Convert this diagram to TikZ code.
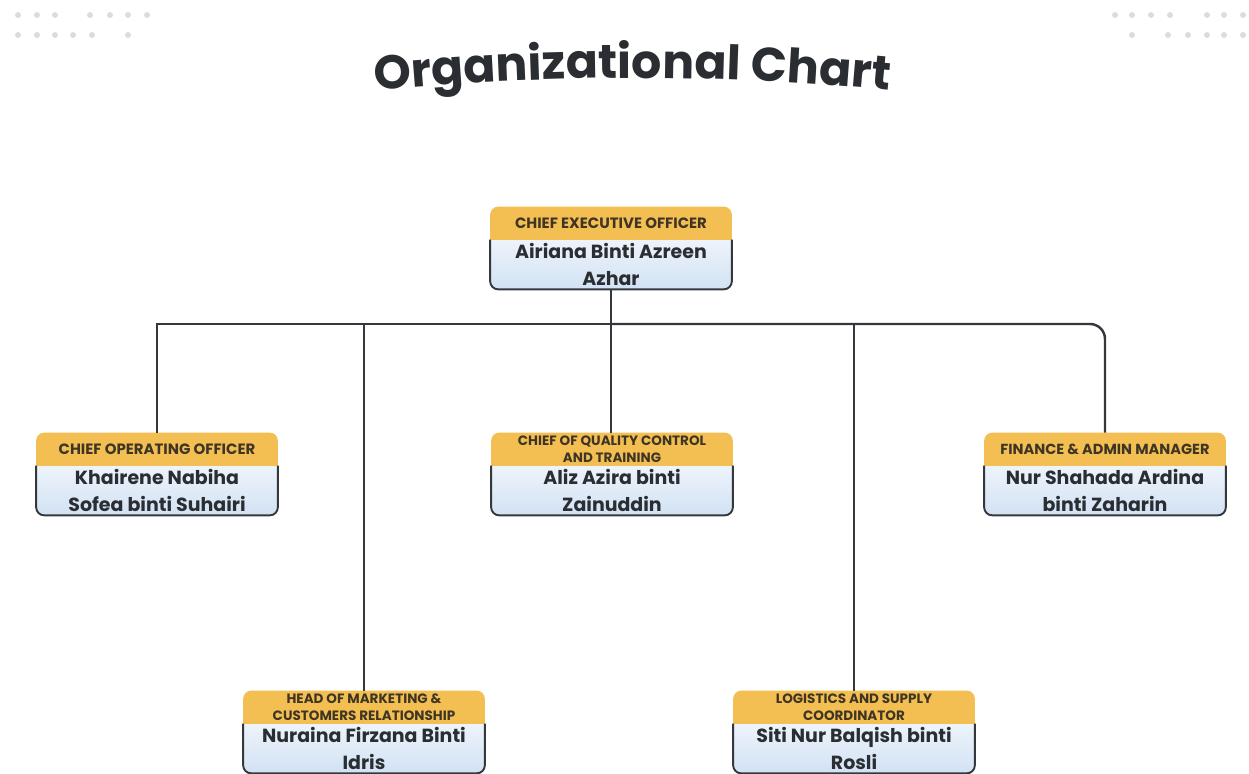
\documentclass[tikz,border=0pt]{standalone}
\usepackage{fontspec}
\setmainfont{Poppins}
\usetikzlibrary{positioning, calc, decorations.text}

\definecolor{headyellow}{HTML}{F4BF52}
\definecolor{boxline}{HTML}{34383D}
\definecolor{bodyblue}{HTML}{D2E2F4}
\definecolor{dotgray}{HTML}{DCDCDC}
\definecolor{inktext}{HTML}{2A2D31}
\definecolor{roletext}{HTML}{3E3524}

\tikzset{
  orgbox/.style={minimum width=4.82cm, minimum height=1.64cm, inner sep=0pt,
    rounded corners=0.16cm, top color=white, middle color=white, bottom color=bodyblue},
  roletag/.style={font=\fontsize{#1}{9.6}\selectfont\bfseries, text=roletext, align=center, inner sep=0pt},
  person/.style={font=\fontsize{10.8}{15.3}\selectfont\bfseries, text=inktext, align=center, inner sep=0pt},
  link/.style={draw=boxline, line width=1.4pt},
}

\begin{document}
\begin{tikzpicture}[x=0.02cm, y=-0.02cm]

    \useasboundingbox (0,0) rectangle (1249,774);

    % --- Corner dots ---
    \foreach \x in {18,37,55,90,110,128,147} \fill[dotgray] (\x,15) circle (0.06cm);
    \foreach \x in {18,37,55,73,92,128} \fill[dotgray] (\x,35) circle (0.06cm);
    \foreach \x in {1115,1132,1151,1170,1207,1224,1243} \fill[dotgray] (\x,15) circle (0.06cm);
    \foreach \x in {1132,1168,1188,1207,1224,1243} \fill[dotgray] (\x,35) circle (0.06cm);

    % --- Title (arched) ---
    \path[decorate, decoration={text along path, text align=center, text color=inktext,
        text={|\fontsize{27}{28}\selectfont\bfseries|Organizational Chart}}]
        (370,91) .. controls (540,74) and (725,74) .. (895,91);

    % --- Boxes ---
    \foreach \id/\x/\y/\fs/\role/\who in {
        ceo/611/248/8.5/{CHIEF EXECUTIVE OFFICER}/{Airiana Binti Azreen\\Azhar},
        coo/157/474/8.5/{CHIEF OPERATING OFFICER}/{Khairene Nabiha\\Sofea binti Suhairi},
        qc/612/474/7.7/{CHIEF OF QUALITY CONTROL\\AND TRAINING}/{Aliz Azira binti\\Zainuddin},
        fin/1105/474/8.3/{FINANCE \& ADMIN MANAGER}/{Nur Shahada Ardina\\binti Zaharin},
        mkt/364/732/7.7/{HEAD OF MARKETING \&\\CUSTOMERS RELATIONSHIP}/{Nuraina Firzana Binti\\Idris},
        log/854/732/7.7/{LOGISTICS AND SUPPLY\\COORDINATOR}/{Siti Nur Balqish binti\\Rosli}}
    {
        \node[orgbox] (\id) at (\x,\y) {};
        % yellow header
        \fill[headyellow, rounded corners=0.16cm] (\id.north west) rectangle ($(\id.north east)+(0,-0.66cm)$);
        \fill[headyellow] ($(\id.north west)+(0,-0.33cm)$) rectangle ($(\id.north east)+(0,-0.66cm)$);
        % outline below the header
        \draw[boxline, line width=1.1pt, rounded corners=0.16cm]
            ($(\id.north west)+(0,-0.66cm)$) -- (\id.south west) -- (\id.south east) -- ($(\id.north east)+(0,-0.66cm)$);
        \node[roletag=\fs] (\id-role) at ($(\id.north)+(0,-0.33cm)$) {\role};
        \node[person] (\id-name) at ($(\id.north)+(0,-1.15cm)$) {\who};
    }

    % --- Connectors ---
    \coordinate (bus) at (611,324);
    \draw[link] (ceo.south) -- (ceo.south |- qc.north);
    \draw[link] (coo.north) |- (bus);
    \draw[link, rounded corners=0.3cm] (bus) -| (fin.north);
    \draw[link] (mkt.north) -- (mkt.north |- bus);
    \draw[link] (log.north) -- (log.north |- bus);

\end{tikzpicture}
\end{document}
